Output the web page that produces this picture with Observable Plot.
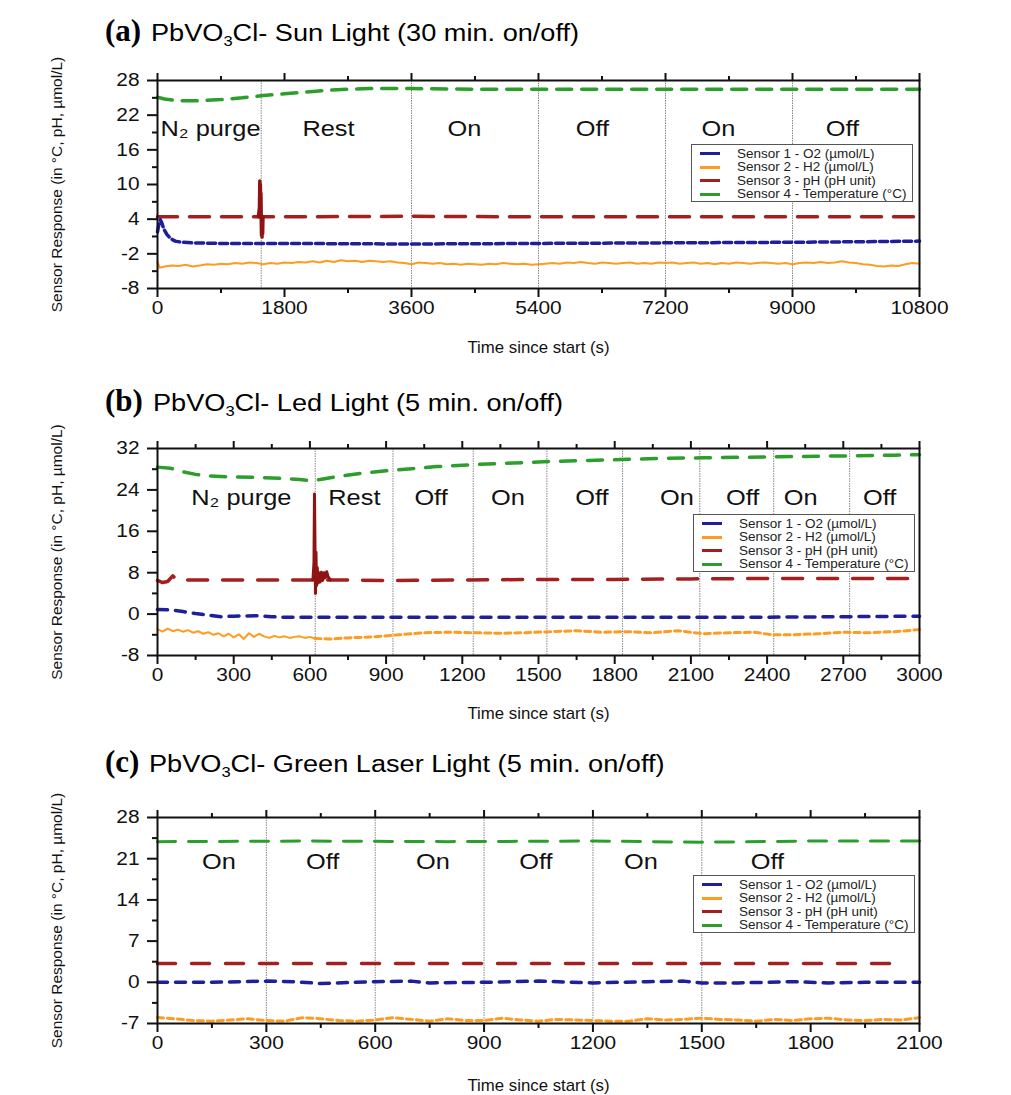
<!DOCTYPE html>
<html><head><meta charset="utf-8">
<script src="https://cdn.jsdelivr.net/npm/d3@7"></script>
<script src="https://cdn.jsdelivr.net/npm/@observablehq/plot@0.6"></script>
<style>
body{margin:0;background:#fff;font-family:Arial,"Liberation Sans",sans-serif;}
#root{position:relative;width:1011px;height:1095px;overflow:hidden;background:#fff}
.panel{position:absolute;left:0;width:1011px}
.title{position:absolute;left:105px;white-space:nowrap;display:flex;align-items:baseline;line-height:34px}
.tag{font-family:"Times New Roman","Liberation Serif",serif;font-weight:bold;font-size:31px}
.ttl{display:inline-block;font-size:23px;margin-left:10px;transform:scaleX(1.18);transform-origin:left center}
.ttl sub{font-size:14px;vertical-align:-5px;line-height:0}
.legend{position:absolute;border:1px solid #555;background:#fff;box-sizing:border-box;padding-top:2px}
.row{display:flex;align-items:center;height:13.5px}
.sw{display:inline-block;width:20px;height:3px;margin-left:8px;margin-right:17px}
.lt{display:inline-block;font-size:12.5px;transform:scaleX(1.08);transform-origin:left center;white-space:nowrap;color:#222}
</style></head>
<body><div id="root"></div>
<script>
// ---------- shared ----------
const seriesNames = ["Sensor 1 - O2 (µmol/L)","Sensor 2 - H2 (µmol/L)","Sensor 3 - pH (pH unit)","Sensor 4 - Temperature (°C)"];
const seriesColors = ["#1f1f9c","#ff9b1e","#a41f1f","#2c9e2c"];
const yLabel = "Sensor Response (in °C, pH, µmol/L)";
const xLabel = "Time since start (s)";

// ---------- panel (a) : Sun light, 30 min on/off ----------
const aXTicks = [0,1800,3600,5400,7200,9000,10800];
const aXMinor = [900,2700,4500,6300,8100,9900];
const aYTicks = [-8,-2,4,10,16,22,28];
const aYMinor = [-5,1,7,13,19,25];
const aBounds = [1470,3600,5400,7200,9000];
const aPhaseT = [751,2423,4351,6165,7951,9708];
const aPhaseY = 19.6;
const aPhaseNames = ["N₂ purge","Rest","On","Off","On","Off"];
const aO2 = [[0,1.8],[20,3.2],[40,3.9],[60,3.4],[90,2.3],[130,1.4],[180,0.7],[250,0.2],[350,0.0],[500,-0.1],[900,-0.2],[1800,-0.2],[3600,-0.3],[5400,-0.2],[7200,-0.1],[9000,0.0],[10000,0.1],[10800,0.2]];
const aH2 = [[0,-3.4],[30,-4.4],[100,-4.2],[200,-4.0],[300,-4.1],[400,-3.9],[500,-4.2],[600,-4.0],[700,-3.8],[800,-3.9],[900,-3.7],[1000,-3.8],[1100,-3.6],[1200,-3.7],[1300,-3.5],[1400,-3.6],[1500,-3.8],[1600,-3.6],[1700,-3.7],[1800,-3.5],[1900,-3.6],[2000,-3.4],[2100,-3.5],[2200,-3.3],[2300,-3.5],[2400,-3.2],[2500,-3.4],[2600,-3.1],[2700,-3.3],[2800,-3.2],[2900,-3.4],[3000,-3.2],[3100,-3.3],[3200,-3.4],[3300,-3.3],[3400,-3.5],[3500,-3.6],[3600,-3.8],[3700,-3.5],[3800,-3.6],[3900,-3.7],[4000,-3.6],[4100,-3.8],[4200,-3.7],[4300,-3.9],[4400,-3.7],[4500,-3.8],[4600,-3.9],[4700,-3.7],[4800,-3.8],[4900,-3.6],[5000,-3.7],[5100,-3.8],[5200,-3.7],[5300,-3.9],[5400,-3.8],[5500,-3.7],[5600,-3.6],[5700,-3.7],[5800,-3.5],[5900,-3.6],[6000,-3.4],[6100,-3.6],[6200,-3.7],[6300,-3.5],[6400,-3.6],[6500,-3.7],[6600,-3.6],[6700,-3.5],[6800,-3.7],[6900,-3.6],[7000,-3.7],[7100,-3.5],[7200,-3.6],[7300,-3.5],[7400,-3.7],[7500,-3.6],[7600,-3.5],[7700,-3.7],[7800,-3.6],[7900,-3.8],[8000,-3.6],[8100,-3.7],[8200,-3.5],[8300,-3.6],[8400,-3.7],[8500,-3.6],[8600,-3.5],[8700,-3.6],[8800,-3.7],[8900,-3.6],[9000,-3.8],[9100,-3.6],[9200,-3.5],[9300,-3.6],[9400,-3.4],[9500,-3.6],[9600,-3.5],[9700,-3.3],[9800,-3.5],[9900,-3.6],[10000,-3.8],[10100,-3.9],[10200,-4.1],[10300,-4.2],[10400,-4.0],[10500,-4.1],[10600,-3.8],[10700,-3.6],[10800,-3.7]];
const aPH = [[0,4.4],[1800,4.4],[3600,4.5],[5400,4.4],[7200,4.4],[9000,4.4],[10800,4.4]];
const aPHSpike = [[1430,4.4],[1445,6],[1450,10.6],[1455,7],[1458,10],[1462,5],[1466,8.5],[1470,4.4],[1474,1.2],[1478,3],[1482,0.9],[1486,2.5],[1490,1.5],[1495,4.4]];
const aTemp = [[0,25.1],[100,24.8],[300,24.5],[600,24.5],[900,24.7],[1200,25.0],[1500,25.4],[1800,25.7],[2100,26.0],[2400,26.3],[2700,26.5],[3000,26.6],[3600,26.6],[4500,26.5],[5400,26.5],[6300,26.5],[7200,26.5],[8100,26.5],[9000,26.5],[9900,26.5],[10800,26.5]];

// ---------- panel (b) : LED light, 5 min on/off ----------
const bXTicks = [0,300,600,900,1200,1500,1800,2100,2400,2700,3000];
const bXMinor = [150,450,750,1050,1350,1650,1950,2250,2550,2850];
const bYTicks = [-8,0,8,16,24,32];
const bYMinor = [-4,4,12,20,28];
const bBounds = [621,927,1243,1533,1831,2135,2426,2725];
const bPhaseT = [330,775,1077,1380,1710,2045,2304,2532,2843];
const bPhaseY = 22.4;
const bPhaseNames = ["N₂ purge","Rest","Off","On","Off","On","Off","On","Off"];
const bO2 = [[0,0.9],[50,0.8],[100,0.5],[150,0.1],[200,-0.2],[250,-0.5],[300,-0.4],[400,-0.3],[450,-0.5],[500,-0.6],[620,-0.6],[900,-0.6],[1200,-0.6],[1500,-0.6],[1800,-0.6],[2100,-0.6],[2400,-0.6],[2700,-0.5],[3000,-0.4]];
const bH2Purge = [[0,-2.9],[20,-3.4],[40,-2.8],[60,-3.3],[80,-3.0],[100,-3.4],[120,-3.1],[140,-3.6],[160,-3.3],[180,-3.8],[200,-3.5],[220,-4.0],[240,-3.7],[260,-4.3],[280,-3.8],[300,-4.5],[320,-3.9],[340,-4.8],[360,-3.7],[380,-4.4],[400,-3.8],[420,-4.3],[440,-4.6],[460,-4.2],[480,-4.5],[500,-4.3],[520,-4.6],[540,-4.4],[560,-4.3],[580,-4.6],[600,-4.4],[620,-4.7]];
const bH2 = [[620,-4.7],[680,-4.8],[750,-4.6],[850,-4.4],[950,-4.0],[1050,-3.6],[1150,-3.5],[1250,-3.6],[1350,-3.7],[1450,-3.6],[1550,-3.4],[1650,-3.2],[1750,-3.5],[1850,-3.4],[1950,-3.6],[2050,-3.2],[2100,-3.5],[2150,-3.8],[2250,-3.6],[2350,-3.5],[2420,-4.0],[2500,-4.0],[2600,-3.8],[2700,-3.5],[2800,-3.6],[2900,-3.4],[3000,-3.0]];
const bPH = [[0,6.5],[20,6.1],[40,6.3],[60,7.4],[75,6.6],[200,6.6],[400,6.6],[615,6.6],[680,6.6],[900,6.5],[1200,6.6],[1500,6.7],[1800,6.7],[2100,6.8],[2400,6.9],[2700,6.9],[3000,6.9]];
const bPHSpike = [[612,6.6],[616,10],[618,23.2],[620,14],[622,4.0],[624,12],[626,5.5],[629,9],[632,6],[636,8],[640,6.2],[645,8.1],[650,6.5],[655,8],[660,7],[666,8.2],[672,7.2],[680,6.6]];
const bTemp = [[0,28.4],[50,28.2],[100,27.5],[150,27],[200,26.7],[300,26.5],[400,26.4],[500,26.2],[560,26],[600,25.8],[640,26.0],[700,26.5],[800,27.2],[900,27.7],[1000,28.1],[1100,28.5],[1250,28.9],[1400,29.2],[1550,29.5],[1700,29.7],[1850,29.9],[2000,30.1],[2150,30.2],[2300,30.3],[2450,30.4],[2600,30.5],[2750,30.6],[2900,30.7],[3000,30.8]];

// ---------- panel (c) : Green laser, 5 min on/off ----------
const cXTicks = [0,300,600,900,1200,1500,1800,2100];
const cXMinor = [150,450,750,1050,1350,1650,1950];
const cYTicks = [-7,0,7,14,21,28];
const cYMinor = [-3.5,3.5,10.5,17.5,24.5];
const cBounds = [300,600,900,1200,1500];
const cPhaseT = [169,455,759,1043,1332,1681];
const cPhaseY = 20.4;
const cPhaseNames = ["On","Off","On","Off","On","Off"];
const cO2 = [[0,0],[150,0],[300,0.2],[380,0.1],[450,-0.2],[600,0.1],[700,0.2],[750,-0.1],[900,0],[1050,0.2],[1200,-0.1],[1350,0.1],[1450,0.2],[1500,-0.1],[1600,-0.1],[1750,0.1],[1850,-0.1],[1950,0],[2100,0]];
const cH2 = [[0,-6.0],[50,-6.2],[100,-6.5],[150,-6.6],[200,-6.4],[250,-6.2],[300,-6.5],[350,-6.6],[400,-6.0],[450,-6.2],[500,-6.5],[550,-6.6],[600,-6.4],[650,-6.0],[700,-6.3],[750,-6.6],[800,-6.2],[850,-6.5],[900,-6.5],[950,-6.1],[1000,-6.4],[1050,-6.6],[1100,-6.3],[1150,-6.4],[1200,-6.5],[1250,-6.6],[1300,-6.6],[1350,-6.2],[1400,-6.4],[1450,-6.3],[1500,-6.1],[1550,-6.3],[1600,-6.4],[1650,-6.6],[1700,-6.3],[1750,-6.5],[1800,-6.2],[1850,-6.1],[1900,-6.4],[1950,-6.5],[2000,-6.3],[2050,-6.4],[2100,-6.0]];
const cPH = [[0,3.2],[700,3.2],[1400,3.2],[2060,3.2]];
const cTemp = [[0,23.9],[400,24.0],[800,23.9],[1200,24.0],[1500,23.8],[1800,24.0],[2100,24.0]];

// ---------- rendering ----------
const root = document.getElementById("root");
const FONT = "Arial, 'Liberation Sans', sans-serif";
const STRETCH = {"18.5px":1.13,"21.5px":1.18,"16px":1.05};
const plain = d => String(d);

function stretchText(svg){
  svg.querySelectorAll("text").forEach(el=>{
    const s = STRETCH[getComputedStyle(el).fontSize];
    if(!s) return;
    let x = parseFloat(el.getAttribute("x"));
    if(!isFinite(x) || /em/.test(el.getAttribute("x")||"")) x = 0;
    const tr = el.getAttribute("transform")||"";
    el.setAttribute("transform", `${tr} translate(${x},0) scale(${s},1) translate(${-x},0)`.trim());
  });
}

const X = d=>d[0], Y = d=>d[1];
function line(data, color, width, dash){
  return Plot.line(data,{x:X,y:Y,stroke:color,strokeWidth:width,strokeDasharray:dash,strokeLinejoin:"round"});
}

function makePanel(c){
  const [cO, cH, cP, cT] = seriesColors;
  const marks = [
    Plot.ruleX(c.bounds,{stroke:"#888",strokeWidth:1,strokeDasharray:"1.5,1"}),
    ...c.lines(cO,cH,cP,cT),
    Plot.text(c.phaseT.map((t,i)=>({t,name:c.phaseNames[i]})),{x:"t",y:()=>c.phaseY,text:"name",fontSize:21.5,fill:"#111"}),
    Plot.frame({stroke:"#111",strokeWidth:2}),
    Plot.axisX(c.xTicks,{anchor:"bottom",tickSize:9,tickPadding:3,fontSize:18.5,tickFormat:plain,label:null,strokeWidth:2}),
    Plot.axisX(c.xMinor,{anchor:"bottom",tickSize:5,tickFormat:()=>"",label:null,strokeWidth:2}),
    Plot.axisX(c.xTicks,{anchor:"top",tickSize:8,tickFormat:()=>"",label:null,strokeWidth:2}),
    Plot.axisX(c.xMinor,{anchor:"top",tickSize:5,tickFormat:()=>"",label:null,strokeWidth:2}),
    Plot.axisY(c.yTicks,{anchor:"left",tickSize:10,tickPadding:8,fontSize:18.5,tickFormat:plain,label:null,strokeWidth:2}),
    Plot.axisY(c.yMinor,{anchor:"left",tickSize:5,tickFormat:()=>"",label:null,strokeWidth:2}),
    Plot.text([xLabel],{text:d=>d,frameAnchor:"bottom",textAnchor:"middle",lineAnchor:"middle",dy:c.xLabelDy,fontSize:16,fill:"#111"}),
    Plot.text([yLabel],{text:d=>d,frameAnchor:"left",textAnchor:"middle",lineAnchor:"middle",dx:-100,rotate:-90,fontSize:15.5,fill:"#111"})
  ];
  const svg = Plot.plot({
    width:1011, height:c.height,
    marginLeft:157, marginRight:92, marginTop:30, marginBottom:c.height-30-c.frameH,
    x:{domain:c.xDomain,label:null},
    y:{domain:c.yDomain,label:null},
    style:{fontFamily:FONT,background:"transparent",color:"#111",overflow:"visible"},
    marks
  });
  const wrap = document.createElement("div");
  wrap.className="panel"; wrap.style.top=c.svgTop+"px";
  wrap.appendChild(svg); root.appendChild(wrap);
  stretchText(svg);

  const t = document.createElement("div");
  t.className="title"; t.style.top=c.titleTop+"px";
  t.innerHTML = `<span class="tag">${c.tag}</span><span class="ttl">${c.title}</span>`;
  root.appendChild(t);

  const lg = document.createElement("div");
  lg.className="legend";
  lg.style.left=c.legend[0]+"px"; lg.style.top=c.legend[1]+"px";
  lg.style.width="222px"; lg.style.height="58px";
  lg.innerHTML = seriesNames.map((n,i)=>`<div class="row"><span class="sw" style="background:${seriesColors[i]}"></span><span class="lt">${n}</span></div>`).join("");
  root.appendChild(lg);
}

makePanel({
  tag:"(a)", title:"PbVO<sub>3</sub>Cl- Sun Light (30 min. on/off)", titleTop:14,
  svgTop:50, height:310, frameH:208, xLabelDy:59,
  xDomain:[0,10800], yDomain:[-8,28],
  xTicks:aXTicks, xMinor:aXMinor, yTicks:aYTicks, yMinor:aYMinor,
  bounds:aBounds, phaseT:aPhaseT, phaseY:aPhaseY, phaseNames:aPhaseNames,
  legend:[691,144],
  lines:(cO,cH,cP,cT)=>[
    line(aTemp,cT,3.5,"15,10"),
    line(aPH,cP,3.5,"20,12"),
    line(aPHSpike,"#8e1414",3.5,null),
    line(aO2,cO,3.5,"8,4"),
    line(aH2,cH,2,null)
  ]
});

makePanel({
  tag:"(b)", title:"PbVO<sub>3</sub>Cl- Led Light (5 min. on/off)", titleTop:384,
  svgTop:418, height:305, frameH:207, xLabelDy:58,
  xDomain:[0,3000], yDomain:[-8,32],
  xTicks:bXTicks, xMinor:bXMinor, yTicks:bYTicks, yMinor:bYMinor,
  bounds:bBounds, phaseT:bPhaseT, phaseY:bPhaseY, phaseNames:bPhaseNames,
  legend:[693,514],
  lines:(cO,cH,cP,cT)=>[
    line(bTemp,cT,3.5,"15,12"),
    line(bPH,cP,3.5,"20,15"),
    line(bPHSpike,"#8e1414",3,null),
    line(bO2,cO,3.5,"10,8"),
    line(bH2Purge,cH,2,null),
    line(bH2,cH,3,"6,4")
  ]
});

makePanel({
  tag:"(c)", title:"PbVO<sub>3</sub>Cl- Green Laser Light (5 min. on/off)", titleTop:745,
  svgTop:787, height:308, frameH:206, xLabelDy:62,
  xDomain:[0,2100], yDomain:[-7,28],
  xTicks:cXTicks, xMinor:cXMinor, yTicks:cYTicks, yMinor:cYMinor,
  bounds:cBounds, phaseT:cPhaseT, phaseY:cPhaseY, phaseNames:cPhaseNames,
  legend:[693,875],
  lines:(cO,cH,cP,cT)=>[
    line(cTemp,cT,3,"18,13"),
    line(cPH,cP,3.5,"18,16"),
    line(cO2,cO,3.5,"10,8"),
    line(cH2,cH,3,"6,4")
  ]
});
</script></body></html>
